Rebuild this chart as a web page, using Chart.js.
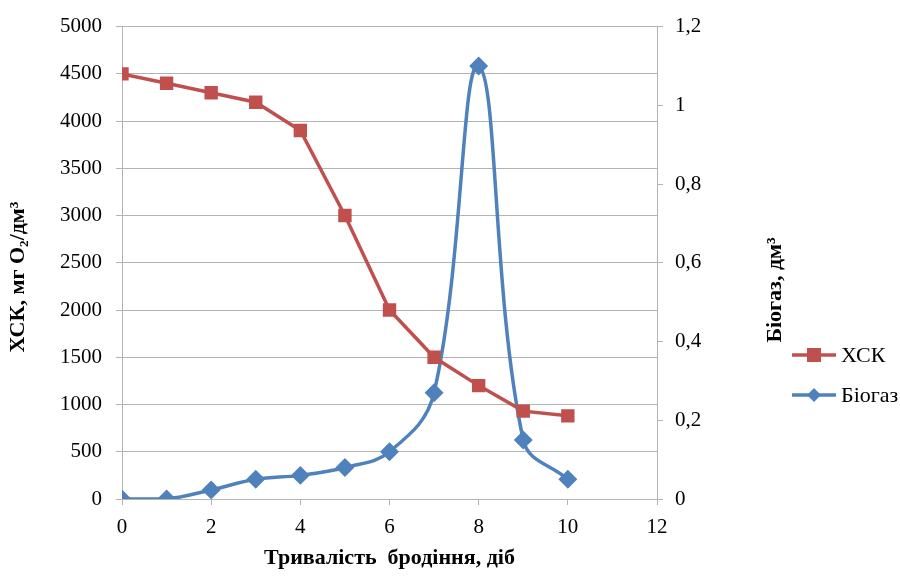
<!DOCTYPE html>
<html>
<head>
<meta charset="utf-8">
<script src="https://cdn.jsdelivr.net/npm/chart.js@4.4.0/dist/chart.umd.min.js"></script>
<style>
  html, body { margin: 0; padding: 0; background: #fff; }
  #wrap { position: relative; width: 900px; height: 576px; }
  #legend { position: absolute; left: 790px; top: 335px; font-family: "Liberation Serif", serif; font-size: 22px; color: #000; }
  #legend div { display: flex; align-items: center; height: 40px; }
  #legend canvas { margin-right: 3px; }
</style>
</head>
<body>
<div id="wrap">
  <canvas id="chart" width="900" height="576"></canvas>
  <div id="legend"></div>
</div>
<script>
const days = [0, 1, 2, 3, 4, 5, 6, 7, 8, 9, 10];
const xskValues = [4500, 4400, 4300, 4200, 3900, 3000, 2000, 1500, 1200, 930, 880];
const biogasValues = [0, 0, 0.023, 0.05, 0.06, 0.08, 0.12, 0.27, 1.1, 0.15, 0.05];

const xskColor = '#c0504d';
const gasColor = '#4f81bd';
const gridColor = '#b3b3b3';
const font = "'Liberation Serif', 'Times New Roman', serif";

function pts(vals) {
    return days.map((d, i) => ({ x: d, y: vals[i] }));
}

// both y titles drawn by hand: the right one reads bottom-to-top
function vTitle(g, text, x, y) {
    g.save();
    g.translate(x, y);
    g.rotate(-Math.PI / 2);
    g.font = "bold 22px " + font;
    g.fillStyle = '#000';
    g.textAlign = 'center';
    g.textBaseline = 'middle';
    g.fillText(text, 0, 0);
    g.restore();
}
const yTitles = {
    id: 'yTitles',
    afterDraw(chart) {
        vTitle(chart.ctx, 'ХСК, мг О₂/дм³', 18, 277);
        vTitle(chart.ctx, 'Біогаз, дм³', 775, 290);
    }
};

const ctx = document.getElementById('chart');

new Chart(ctx, {
    type: 'line',
    data: {
        datasets: [{
            label: 'ХСК',
            data: pts(xskValues),
            yAxisID: 'y',
            borderColor: xskColor,
            backgroundColor: xskColor,
            borderWidth: 3.5,
            pointStyle: 'rect',
            pointRadius: 7,
            tension: 0
        }, {
            label: 'Біогаз',
            data: pts(biogasValues),
            yAxisID: 'y1',
            borderColor: gasColor,
            backgroundColor: gasColor,
            borderWidth: 3.5,
            pointStyle: 'rectRot',
            pointRadius: 7,
            tension: 0.4
        }]
    },
    options: {
        responsive: false,
        animation: false,
        layout: { padding: { top: 16, right: 110, left: 0, bottom: 0 } },
        plugins: { legend: { display: false }, tooltip: { enabled: false } },
        scales: {
            x: {
                type: 'linear', min: 0, max: 12,
                ticks: { stepSize: 2, color: '#000', font: { family: font, size: 21 }, padding: 10 },
                grid: { drawOnChartArea: false, color: gridColor, tickLength: 6 },
                border: { color: gridColor },
                title: { display: true, text: 'Тривалість  бродіння, діб', color: '#000', font: { family: font, size: 22, weight: 'bold' }, padding: { top: 4 } },
                afterFit: s => { s.height = 77; }
            },
            y: {
                position: 'left', min: 0, max: 5000,
                ticks: { stepSize: 500, color: '#000', font: { family: font, size: 21 }, padding: 14, callback: v => String(v) },
                grid: { color: gridColor, tickLength: 6 },
                border: { color: gridColor },
                afterFit: s => { s.width = 122; }
            },
            y1: {
                position: 'right', min: 0, max: 1.2,
                ticks: {
                    stepSize: 0.2, color: '#000', font: { family: font, size: 21 }, padding: 12,
                    callback: v => String(Math.round(v * 10) / 10).replace('.', ',')
                },
                grid: { drawOnChartArea: false, color: gridColor, tickLength: 6 },
                border: { color: gridColor },
                afterFit: s => { s.width = 133; }
            }
        }
    },
    plugins: [yTitles]
});

/* legend */
const legend = document.getElementById('legend');
[['ХСК', xskColor, 'rect'], ['Біогаз', gasColor, 'diamond']].forEach(([name, color, shape]) => {
    const row = document.createElement('div');
    const c = document.createElement('canvas');
    c.width = 48; c.height = 20;
    const g = c.getContext('2d');
    g.strokeStyle = color; g.fillStyle = color; g.lineWidth = 3.5;
    g.beginPath(); g.moveTo(2, 10); g.lineTo(46, 10); g.stroke();
    if (shape === 'rect') g.fillRect(17, 3, 14, 14);
    else { g.beginPath(); g.moveTo(24, 3); g.lineTo(31, 10); g.lineTo(24, 17); g.lineTo(17, 10); g.closePath(); g.fill(); }
    row.appendChild(c);
    const t = document.createElement('span');
    t.textContent = name;
    row.appendChild(t);
    legend.appendChild(row);
});
</script>
</body>
</html>
